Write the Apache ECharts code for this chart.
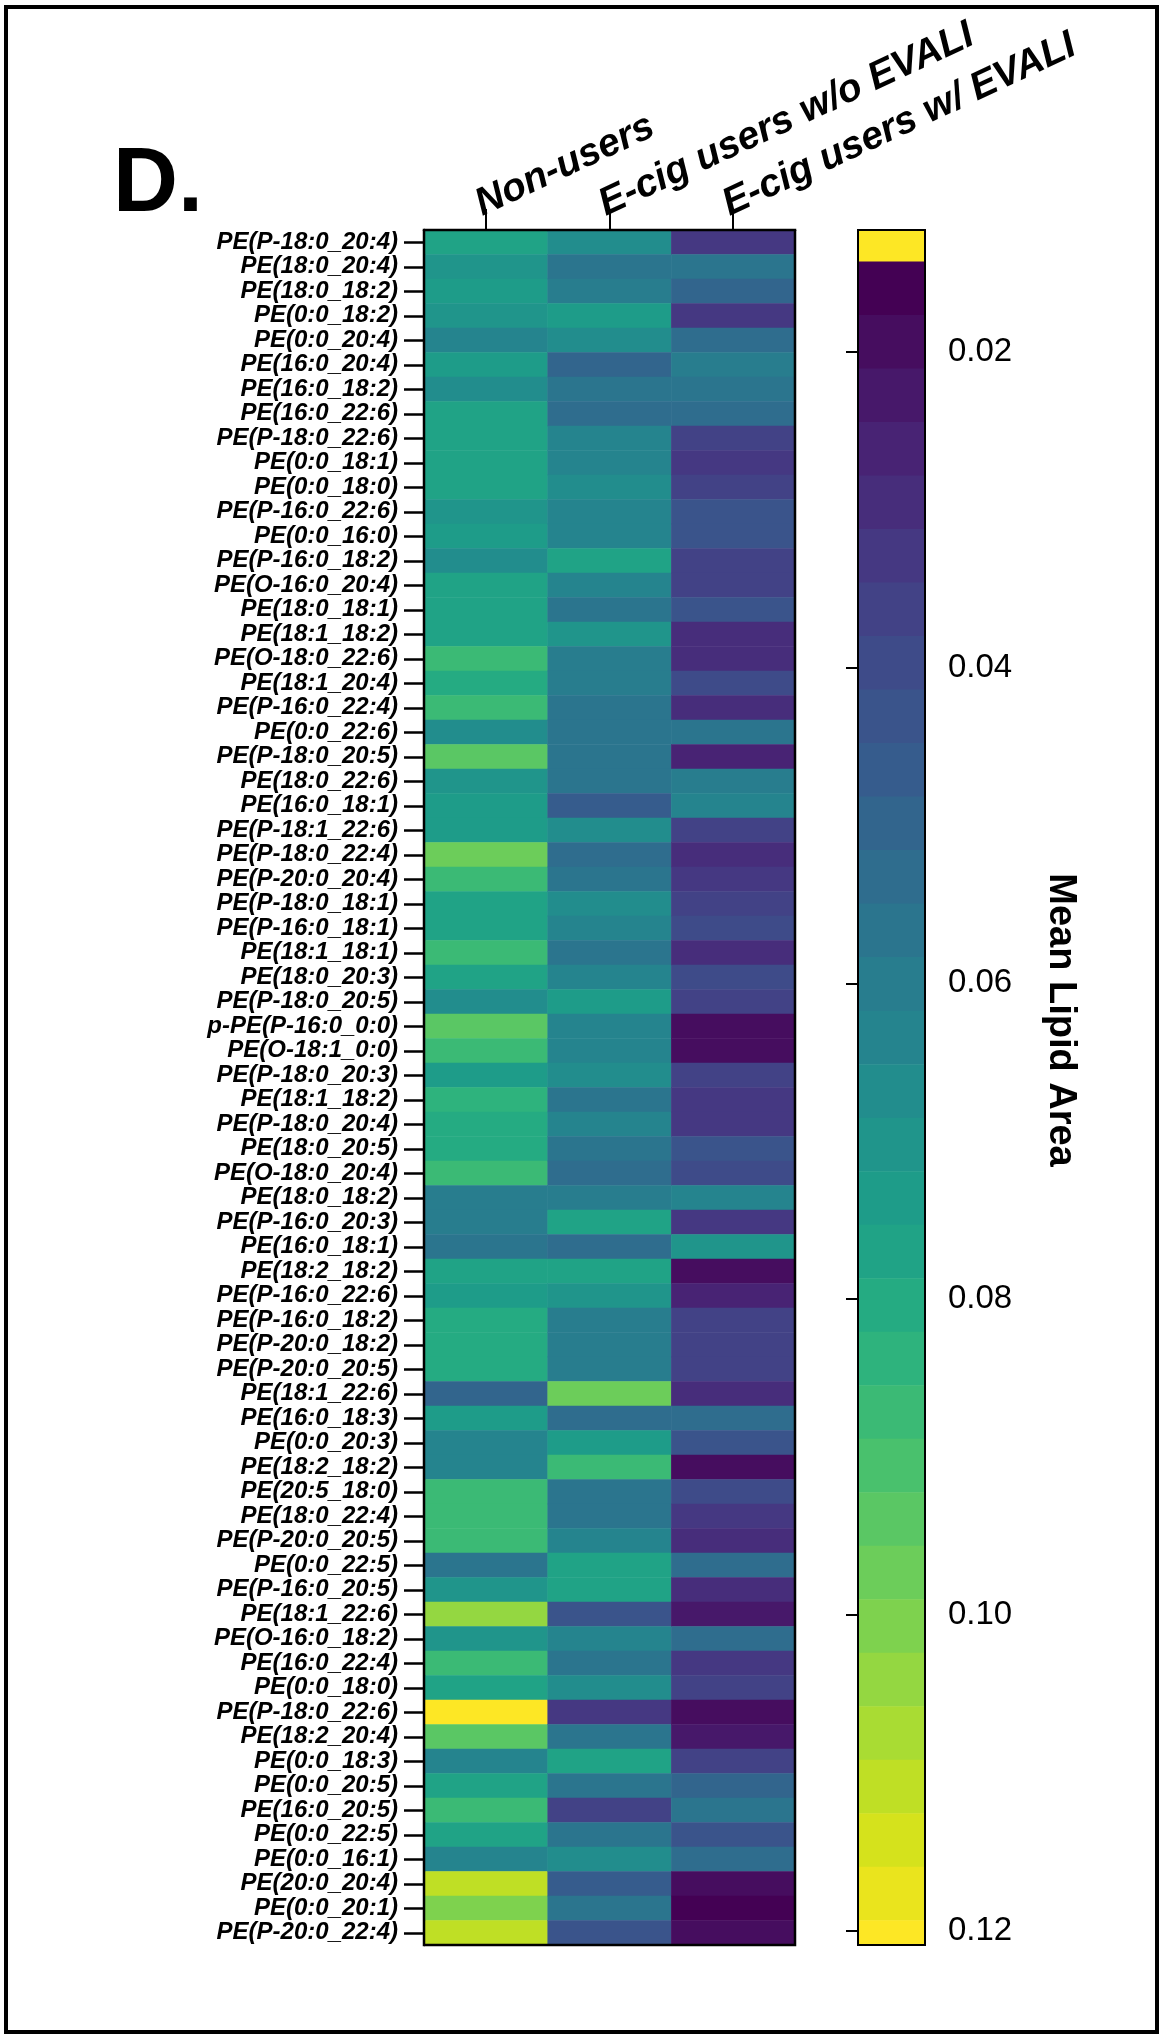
<!DOCTYPE html>
<html>
<head>
<meta charset="utf-8">
<script src="https://cdn.jsdelivr.net/npm/echarts@6/dist/echarts.min.js"></script>
<style>
html,body{margin:0;padding:0;background:#fff;}
#chart{width:1165px;height:2040px;}
</style>
</head>
<body>
<div id="chart"></div>
<script>
// ---------------- data ----------------
const groups = ['Non-users', 'E-cig users w/o EVALI', 'E-cig users w/ EVALI'];

const lipids = [
  'PE(P-18:0_20:4)', 'PE(18:0_20:4)', 'PE(18:0_18:2)', 'PE(0:0_18:2)', 'PE(0:0_20:4)',
  'PE(16:0_20:4)', 'PE(16:0_18:2)', 'PE(16:0_22:6)', 'PE(P-18:0_22:6)', 'PE(0:0_18:1)',
  'PE(0:0_18:0)', 'PE(P-16:0_22:6)', 'PE(0:0_16:0)', 'PE(P-16:0_18:2)', 'PE(O-16:0_20:4)',
  'PE(18:0_18:1)', 'PE(18:1_18:2)', 'PE(O-18:0_22:6)', 'PE(18:1_20:4)', 'PE(P-16:0_22:4)',
  'PE(0:0_22:6)', 'PE(P-18:0_20:5)', 'PE(18:0_22:6)', 'PE(16:0_18:1)', 'PE(P-18:1_22:6)',
  'PE(P-18:0_22:4)', 'PE(P-20:0_20:4)', 'PE(P-18:0_18:1)', 'PE(P-16:0_18:1)', 'PE(18:1_18:1)',
  'PE(18:0_20:3)', 'PE(P-18:0_20:5)', 'p-PE(P-16:0_0:0)', 'PE(O-18:1_0:0)', 'PE(P-18:0_20:3)',
  'PE(18:1_18:2)', 'PE(P-18:0_20:4)', 'PE(18:0_20:5)', 'PE(O-18:0_20:4)', 'PE(18:0_18:2)',
  'PE(P-16:0_20:3)', 'PE(16:0_18:1)', 'PE(18:2_18:2)', 'PE(P-16:0_22:6)', 'PE(P-16:0_18:2)',
  'PE(P-20:0_18:2)', 'PE(P-20:0_20:5)', 'PE(18:1_22:6)', 'PE(16:0_18:3)', 'PE(0:0_20:3)',
  'PE(18:2_18:2)', 'PE(20:5_18:0)', 'PE(18:0_22:4)', 'PE(P-20:0_20:5)', 'PE(0:0_22:5)',
  'PE(P-16:0_20:5)', 'PE(18:1_22:6)', 'PE(O-16:0_18:2)', 'PE(16:0_22:4)', 'PE(0:0_18:0)',
  'PE(P-18:0_22:6)', 'PE(18:2_20:4)', 'PE(0:0_18:3)', 'PE(0:0_20:5)', 'PE(16:0_20:5)',
  'PE(0:0_22:5)', 'PE(0:0_16:1)', 'PE(20:0_20:4)', 'PE(0:0_20:1)', 'PE(P-20:0_22:4)'
];

const nonUsers = [
  0.077, 0.071, 0.072, 0.071, 0.064, 0.073, 0.067, 0.078, 0.078, 0.078,
  0.077, 0.071, 0.073, 0.066, 0.078, 0.078, 0.078, 0.087, 0.079, 0.087,
  0.067, 0.095, 0.071, 0.075, 0.075, 0.097, 0.087, 0.076, 0.076, 0.086,
  0.076, 0.067, 0.094, 0.088, 0.073, 0.085, 0.079, 0.079, 0.087, 0.060,
  0.061, 0.058, 0.077, 0.074, 0.081, 0.081, 0.081, 0.051, 0.073, 0.064,
  0.065, 0.087, 0.087, 0.087, 0.058, 0.071, 0.105, 0.071, 0.087, 0.077,
  0.120, 0.094, 0.064, 0.076, 0.087, 0.076, 0.063, 0.111, 0.100, 0.111
];

const ecigNoEvali = [
  0.068, 0.058, 0.061, 0.074, 0.067, 0.051, 0.056, 0.053, 0.063, 0.065,
  0.066, 0.062, 0.062, 0.077, 0.064, 0.058, 0.071, 0.059, 0.059, 0.058,
  0.056, 0.057, 0.055, 0.048, 0.067, 0.052, 0.055, 0.066, 0.065, 0.057,
  0.063, 0.075, 0.063, 0.065, 0.066, 0.058, 0.065, 0.056, 0.053, 0.059,
  0.078, 0.054, 0.077, 0.071, 0.061, 0.061, 0.061, 0.098, 0.054, 0.072,
  0.088, 0.055, 0.058, 0.062, 0.076, 0.077, 0.042, 0.062, 0.057, 0.066,
  0.033, 0.058, 0.076, 0.056, 0.037, 0.058, 0.066, 0.048, 0.056, 0.042
];

const ecigEvali = [
  0.032, 0.055, 0.049, 0.033, 0.053, 0.060, 0.056, 0.053, 0.038, 0.034,
  0.036, 0.044, 0.044, 0.035, 0.035, 0.043, 0.029, 0.029, 0.040, 0.028,
  0.056, 0.025, 0.061, 0.064, 0.037, 0.028, 0.033, 0.035, 0.039, 0.030,
  0.040, 0.036, 0.020, 0.020, 0.035, 0.034, 0.034, 0.042, 0.040, 0.064,
  0.032, 0.071, 0.021, 0.027, 0.036, 0.036, 0.035, 0.028, 0.054, 0.042,
  0.018, 0.039, 0.034, 0.031, 0.053, 0.029, 0.024, 0.053, 0.032, 0.035,
  0.019, 0.024, 0.038, 0.049, 0.057, 0.043, 0.052, 0.018, 0.016, 0.018
];

const cbTickValues = [0.02, 0.04, 0.06, 0.08, 0.10, 0.12];
const cbTickLabels = ['0.02', '0.04', '0.06', '0.08', '0.10', '0.12'];
const cbTitle = 'Mean Lipid Area';
const panelLetter = 'D.';

// ---------------- colour scale (style) ----------------
const viridisStops = ['#440154','#471365','#482475','#463480','#414487','#3b528b','#355f8d',
  '#2f6c8e','#2a788e','#25848e','#21918c','#1e9c89','#22a884','#2fb47c','#44bf70','#5ec962',
  '#7ad151','#9bd93c','#bddf26','#dfe318','#fde725'];
function hex2rgb(h){return [parseInt(h.substr(1,2),16),parseInt(h.substr(3,2),16),parseInt(h.substr(5,2),16)];}
function viridis(t){
  t = Math.max(0, Math.min(1, t));
  const p = t * (viridisStops.length - 1);
  const i = Math.min(Math.floor(p), viridisStops.length - 2);
  const f = p - i;
  const a = hex2rgb(viridisStops[i]), b = hex2rgb(viridisStops[i + 1]);
  const c = a.map((v, k) => Math.round(v + (b[k] - v) * f));
  return 'rgb(' + c.join(',') + ')';
}
const cbMin = 0.0123, cbMax = 0.1209;
const bandStart = 0.0143, bandStep = 0.003388, nBands = 32;
const bandColors = [];
for (let k = 0; k < nBands; k++) bandColors.push(viridis(k / (nBands - 1)));
const pieces = [];
for (let k = 0; k < nBands; k++) {
  const lo = bandStart + k * bandStep, hi = lo + bandStep;
  const p = { color: bandColors[k] };
  if (k > 0) p.gte = lo;
  if (k < nBands - 1) p.lt = hi;
  pieces.push(p);
}
// colour-bar bands
const cbBands = [[cbMin, bandStart, nBands - 1]];
for (let k = 0; k < nBands; k++) {
  const lo = bandStart + k * bandStep;
  const hi = Math.min(lo + bandStep, cbMax);
  if (lo < cbMax) cbBands.push([lo, hi, k]);
}

// heatmap data
const series = [nonUsers, ecigNoEvali, ecigEvali];
const heatData = [];
series.forEach((arr, j) => arr.forEach((v, i) => heatData.push([j, i, v])));

// ---------------- chart ----------------
const FONT = '"Liberation Sans", Arial, sans-serif';
const G = { left: 424, top: 230, width: 371, height: 1715 };
const CB = { left: 858, top: 230, width: 67, height: 1715 };

const chart = echarts.init(document.getElementById('chart'), null, { renderer: 'canvas' });
chart.setOption({
  animation: false,
  backgroundColor: '#fff',
  grid: [
    Object.assign({ show: false }, G),
    Object.assign({ show: false }, CB)
  ],
  xAxis: [
    {
      type: 'category', gridIndex: 0, data: groups, position: 'top',
      axisLine: { show: true, lineStyle: { color: '#000', width: 2.5 } },
      axisTick: { show: true, alignWithLabel: true, length: 21, lineStyle: { color: '#000', width: 2 } },
      axisLabel: {
        rotate: -25, margin: 6, color: '#000', fontFamily: FONT, fontSize: 39,
        fontWeight: 'bold', fontStyle: 'italic', align: 'left', verticalAlign: 'bottom', interval: 0
      },
      splitLine: { show: false }
    },
    { type: 'value', gridIndex: 1, min: 0, max: 1, show: false }
  ],
  yAxis: [
    {
      type: 'category', gridIndex: 0, data: lipids, inverse: true,
      axisLine: { show: true, lineStyle: { color: '#000', width: 2.5 } },
      axisTick: { show: true, alignWithLabel: true, length: 20, lineStyle: { color: '#000', width: 2.5 } },
      axisLabel: {
        margin: 26, color: '#000', fontFamily: FONT, fontSize: 24,
        fontWeight: 'bold', fontStyle: 'italic', interval: 0
      },
      splitLine: { show: false }
    },
    {
      type: 'value', gridIndex: 1, min: cbMin, max: cbMax, inverse: true, position: 'right',
      axisLine: { show: true, lineStyle: { color: '#000', width: 2 } },
      axisTick: { show: true, inside: true, length: 12, customValues: cbTickValues, lineStyle: { color: '#000', width: 2 } },
      axisLabel: {
        customValues: cbTickValues, margin: 23, color: '#000', fontFamily: FONT, fontSize: 33,
        formatter: function (v) { const i = cbTickValues.findIndex(t => Math.abs(t - v) < 1e-9); return i >= 0 ? cbTickLabels[i] : ''; }
      },
      splitLine: { show: false }
    },
    {
      type: 'value', gridIndex: 1, min: cbMin, max: cbMax, inverse: true, position: 'left',
      axisLine: { show: true, lineStyle: { color: '#000', width: 2 } },
      axisTick: { show: true, inside: true, length: 12, customValues: cbTickValues, lineStyle: { color: '#000', width: 2 } },
      axisLabel: { show: false },
      splitLine: { show: false }
    }
  ],
  visualMap: {
    type: 'piecewise', show: false, dimension: 2, seriesIndex: 0, pieces: pieces
  },
  series: [
    {
      type: 'heatmap', xAxisIndex: 0, yAxisIndex: 0, data: heatData,
      itemStyle: { borderWidth: 0 },
      emphasis: { disabled: true }, progressive: 0, silent: true
    },
    {
      type: 'custom', xAxisIndex: 1, yAxisIndex: 1, data: cbBands, silent: true,
      encode: { y: [0, 1] },
      renderItem: function (params, api) {
        const a = api.coord([0, api.value(0)]);
        const b = api.coord([1, api.value(1)]);
        const col = bandColors[api.value(2)];
        return {
          type: 'rect',
          shape: { x: a[0], y: Math.min(a[1], b[1]), width: b[0] - a[0], height: Math.abs(b[1] - a[1]) + 0.5 },
          style: { fill: col, stroke: null }
        };
      }
    }
  ],
  graphic: [
    { type: 'rect', z: 100, shape: { x: 6, y: 7, width: 1151, height: 2025 }, style: { fill: null, stroke: '#000', lineWidth: 4 } },
    { type: 'rect', z: 100, shape: { x: G.left, y: G.top, width: G.width, height: G.height }, style: { fill: null, stroke: '#000', lineWidth: 2.5 } },
    { type: 'rect', z: 100, shape: { x: CB.left, y: CB.top, width: CB.width, height: CB.height }, style: { fill: null, stroke: '#000', lineWidth: 2 } },
    { type: 'text', z: 100, x: 113, y: 186, style: { text: panelLetter, fill: '#000', font: 'bold 90px ' + FONT, align: 'left', verticalAlign: 'middle' } },
    { type: 'text', z: 100, x: 1060, y: 1020, rotation: -Math.PI / 2, style: { text: cbTitle, fill: '#000', font: 'bold 38px ' + FONT, align: 'center', verticalAlign: 'middle' } }
  ]
});
</script>
</body>
</html>
